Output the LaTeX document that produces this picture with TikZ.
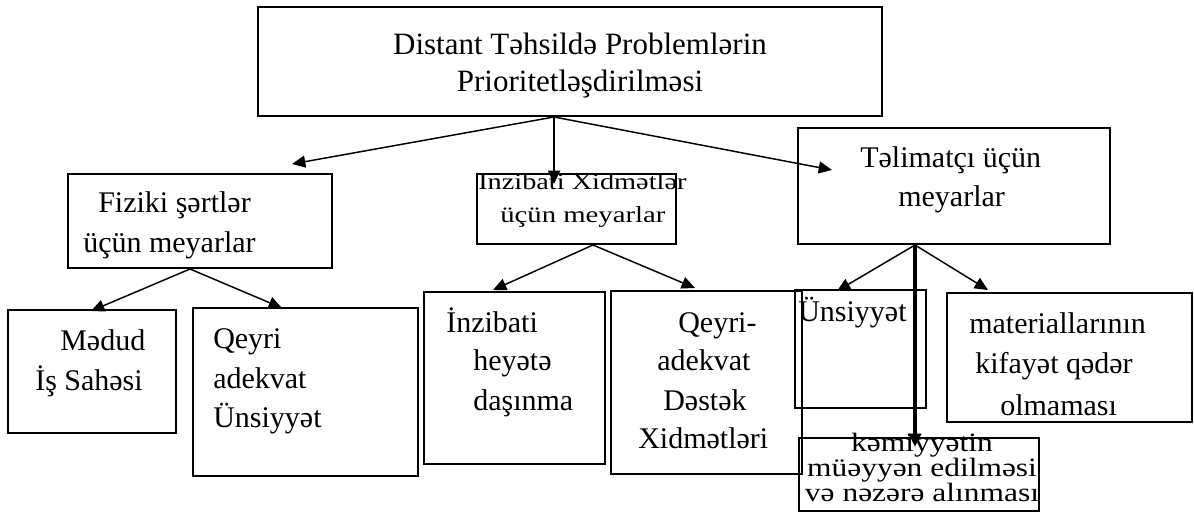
\documentclass[tikz,border=0pt]{standalone}
\usepackage{fontspec}
\setmainfont{Liberation Serif}
\usetikzlibrary{arrows.meta}

\tikzset{
	pbox/.style 2 args={draw, line width=1.5pt, inner sep=0pt, minimum width=#1*0.75pt, minimum height=#2*0.75pt},
	arr/.style={line width=1.1pt, -{Triangle[length=10pt,width=9pt]}},
	txt/.style={inner sep=0pt, anchor=base west, font=\fontsize{22.5}{27}\selectfont},
}

\begin{document}
\begin{tikzpicture}[x=0.75pt,y=0.75pt,yscale=-1,xscale=1]
	\useasboundingbox (0,0) rectangle (1194,513);
	
	%Shape: Rectangle [top]
	\node [pbox={624}{109}] (top) at (570,61.5) {};
	%Shape: Rectangle [Fiziki]
	\node [pbox={264}{94}] (fiz) at (200,221) {};
	%Shape: Rectangle [Inzibati]
	\node [pbox={199}{70}] (inz) at (576.5,209) {};
	%Shape: Rectangle [Telimatci]
	\node [pbox={312}{116}] (tel) at (954,186) {};
	%Shape: Rectangle
	\node [pbox={168}{123}] (medud) at (92,371.5) {};
	%Shape: Rectangle
	\node [pbox={225}{168}] (qeyri) at (305.5,392) {};
	%Shape: Rectangle
	\node [pbox={181}{172}] (heyet) at (514.5,378) {};
	%Shape: Rectangle
	\node [pbox={191}{183}] (destek) at (706.5,382.5) {};
	%Shape: Rectangle
	\node [pbox={131}{118}] (unsi) at (860.5,349) {};
	%Shape: Rectangle
	\node [pbox={245}{129}] (mat) at (1069.5,357.5) {};
	%Shape: Rectangle
	\node [pbox={240}{73}] (kem) at (919,474.5) {};
	
	% ends of the connectors
	\path (top.south) ++(-16,0) coordinate (top-o);
	\path (fiz.north) ++(92,-9) coordinate (fiz-in);
	\path (inz.north) ++(-22.5,11) coordinate (inz-in);
	\path (tel.west) ++(35,-16) coordinate (tel-in);
	\path (fiz.south) ++(-10,0) coordinate (fiz-o);
	\path (medud.north) ++(-1,2) coordinate (medud-in);
	\path (qeyri.north) ++(-23.5,1) coordinate (qeyri-in);
	\path (inz.south) ++(16.5,0) coordinate (inz-o);
	\path (heyet.north) ++(-21.5,-1) coordinate (heyet-in);
	\path (destek.north) ++(-11.5,-2) coordinate (destek-in);
	\path (tel.south) ++(-39,0) coordinate (tel-o);
	\path (unsi.north) ++(-23.5,2) coordinate (unsi-in);
	\path (mat.north) ++(-81.5,-2) coordinate (mat-in);
	\path (kem.north) ++(-4,10) coordinate (kem-in);
	
	%Straight Lines
	\draw [arr] (top-o) -- (fiz-in);
	\draw [arr, line width=1.5pt] (top-o) -- (inz-in);
	\draw [arr] (top-o) -- (tel-in);
	%Straight Lines
	\draw [arr] (fiz-o) -- (medud-in);
	\draw [arr] (fiz-o) -- (qeyri-in);
	%Straight Lines
	\draw [arr] (inz-o) -- (heyet-in);
	\draw [arr] (inz-o) -- (destek-in);
	%Straight Lines
	\draw [arr] (tel-o) -- (unsi-in);
	\draw [arr] (tel-o) -- (mat-in);
	\draw [arr, line width=2.5pt] (tel-o) -- (kem-in);
	
	% Text Node
	\draw (580,55) node [txt, anchor=base, font=\fontsize{23.25}{28}\selectfont] (t-top1) {Distant Təhsildə Problemlərin};
	% Text Node
	\draw (580,92) node [txt, anchor=base, font=\fontsize{23.25}{28}\selectfont] (t-top2) {Prioritetləşdirilməsi};
	% Text Node
	\draw (98,213) node [txt] (t-fiz1) {Fiziki şərtlər};
	% Text Node
	\draw (83,252) node [txt] (t-fiz2) {üçün meyarlar};
	% Text Node
	\draw (478,190) node [txt, font=\fontsize{17.25}{20}\selectfont] (t-inz1) {\scalebox{1.23}[1]{Inzibati Xidmətlər}};
	% Text Node
	\draw (500,223) node [txt, font=\fontsize{17.25}{20}\selectfont] (t-inz2) {\scalebox{1.25}[1]{üçün meyarlar}};
	% Text Node
	\draw (860,168) node [txt] (t-tel1) {Təlimatçı üçün};
	% Text Node
	\draw (898,207) node [txt] (t-tel2) {meyarlar};
	% Text Node
	\draw (60,350) node [txt] (t-med1) {Mədud};
	% Text Node
	\draw (35,390) node [txt] (t-med2) {İş Sahəsi};
	% Text Node
	\draw (213,348) node [txt] (t-qey1) {Qeyri};
	% Text Node
	\draw (213,388) node [txt] (t-qey2) {adekvat};
	% Text Node
	\draw (213,427) node [txt] (t-qey3) {Ünsiyyət};
	% Text Node
	\draw (446,332) node [txt] (t-hey1) {İnzibati};
	% Text Node
	\draw (473,370) node [txt] (t-hey2) {heyətə};
	% Text Node
	\draw (473,410) node [txt] (t-hey3) {daşınma};
	% Text Node
	\draw (678,332) node [txt] (t-des1) {Qeyri-};
	% Text Node
	\draw (657,370) node [txt] (t-des2) {adekvat};
	% Text Node
	\draw (663,410) node [txt] (t-des3) {Dəstək};
	% Text Node
	\draw (638,448) node [txt] (t-des4) {Xidmətləri};
	% Text Node
	\draw (798,321) node [txt] (t-uns) {Ünsiyyət};
	% Text Node
	\draw (969,333) node [txt] (t-mat1) {materiallarının};
	% Text Node
	\draw (975,373) node [txt] (t-mat2) {kifayət qədər};
	% Text Node
	\draw (1000,415) node [txt] (t-mat3) {olmaması};
	% Text Node
	\draw (922,451) node [txt, anchor=base, font=\fontsize{23.6}{20.5}\selectfont] (t-kem) {\scalebox{1}[0.84]{\begin{tabular}[t]{@{}c@{}}kəmiyyətin\\müəyyən edilməsi\\və nəzərə alınması\end{tabular}}};
	
\end{tikzpicture}
\end{document}
